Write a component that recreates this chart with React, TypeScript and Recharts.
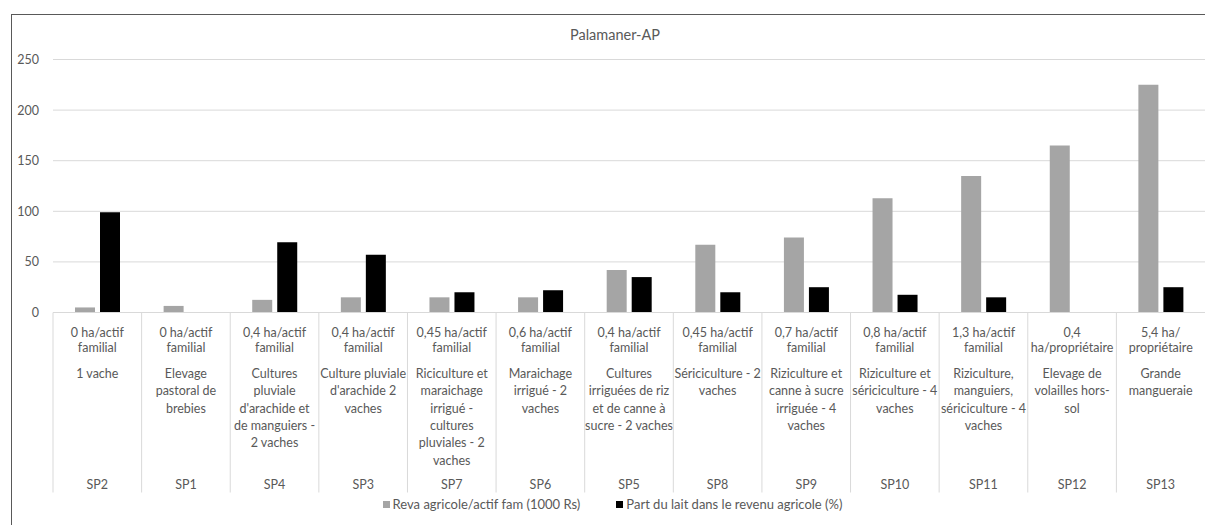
import React from 'react';
import { BarChart, Bar, XAxis, YAxis, CartesianGrid, Legend } from 'recharts';

const categories = ['SP2', 'SP1', 'SP4', 'SP3', 'SP7', 'SP6', 'SP5', 'SP8', 'SP9', 'SP10', 'SP11', 'SP12', 'SP13'];

const surfaceLabels = [
  '0 ha/actif\nfamilial',
  '0 ha/actif\nfamilial',
  '0,4 ha/actif\nfamilial',
  '0,4 ha/actif\nfamilial',
  '0,45 ha/actif\nfamilial',
  '0,6 ha/actif\nfamilial',
  '0,4 ha/actif\nfamilial',
  '0,45 ha/actif\nfamilial',
  '0,7 ha/actif\nfamilial',
  '0,8 ha/actif\nfamilial',
  '1,3 ha/actif\nfamilial',
  '0,4\nha/propriétaire',
  '5,4 ha/\npropriétaire',
];

const systemLabels = [
  '1 vache',
  'Elevage\npastoral de\nbrebies',
  "Cultures\npluviale\nd'arachide et\nde manguiers -\n2 vaches",
  "Culture pluviale\nd'arachide 2\nvaches",
  'Riciculture et\nmaraichage\nirrigué -\ncultures\npluviales - 2\nvaches',
  'Maraichage\nirrigué - 2\nvaches',
  'Cultures\nirriguées de riz\net de canne à\nsucre - 2 vaches',
  'Sériciculture - 2\nvaches',
  'Riziculture et\ncanne à sucre\nirriguée - 4\nvaches',
  'Riziculture et\nsériciculture - 4\nvaches',
  'Riziculture,\nmanguiers,\nsériciculture - 4\nvaches',
  'Elevage de\nvolailles hors-\nsol',
  'Grande\nmangueraie',
];

const revenuAgricole = [5, 6.5, 12.5, 15, 15, 15, 42, 67, 74, 113, 135, 165, 225];
const partLait = [99, null, 69.5, 57, 20, 22, 35, 20, 25, 17.5, 15, null, 25];

const yTicks = [0, 50, 100, 150, 200, 250];

const SERIES_1 = 'Reva agricole/actif fam (1000 Rs)';
const SERIES_2 = 'Part du lait dans le revenu agricole (%)';
const TITLE = 'Palamaner-AP';

const data = categories.map((c, i) => ({
  name: c,
  surface: surfaceLabels[i],
  system: systemLabels[i],
  reva: revenuAgricole[i],
  lait: partLait[i],
}));

const FONT = 'Lato, "Liberation Sans", sans-serif';
const TEXT = '#595959';
const PLOT_LEFT = 53;
const PLOT_RIGHT = 1205;
const BAND = (PLOT_RIGHT - PLOT_LEFT) / categories.length;

const XTick = (props: any) => {
  const { x, y, payload } = props;
  const idx = payload.index;
  const d = data[idx];
  const surf = d.surface.split('\n');
  const sys = d.system.split('\n');
  const left = x - BAND / 2;
  return (
    <g>
      <line x1={left} y1={y} x2={left} y2={y + 180} stroke="#d9d9d9" strokeWidth={1} />
      <text textAnchor="middle" fontSize={12.5} fill={TEXT} fontFamily={FONT}>
        {surf.map((s: string, i: number) => (
          <tspan key={'s' + i} x={x} y={y + 19.5 + i * 15} dominantBaseline="central">{s}</tspan>
        ))}
        {sys.map((s: string, i: number) => (
          <tspan key={'d' + i} x={x} y={y + 61 + i * 17.3} dominantBaseline="central">{s}</tspan>
        ))}
        <tspan x={x} y={y + 171.5} dominantBaseline="central">{d.name}</tspan>
      </text>
    </g>
  );
};

const YTick = (props: any) => {
  const { y, payload } = props;
  return (
    <text x={39} y={y} textAnchor="end" dominantBaseline="central" fontSize={12.5} fill={TEXT} fontFamily={FONT}>
      {payload.value}
    </text>
  );
};

const LegendContent = () => (
  <div style={{ display: 'flex', justifyContent: 'center', alignItems: 'center', fontFamily: FONT, fontSize: 13, color: TEXT }}>
    <span style={{ display: 'inline-block', width: 7, height: 7, background: '#a5a5a5', marginRight: 3 }} />
    <span style={{ marginRight: 36 }}>{SERIES_1}</span>
    <span style={{ display: 'inline-block', width: 7, height: 7, background: '#000000', marginRight: 3 }} />
    <span>{SERIES_2}</span>
  </div>
);

export default function App() {
  return (
    <div style={{ position: 'absolute', left: 0, top: 0, width: 1205, height: 525, overflow: 'hidden', background: '#fff' }}>
      <div style={{ position: 'absolute', left: 11, top: 14, width: 1230, height: 540, borderLeft: '1.5px solid #595959', borderTop: '1.5px solid #595959' }} />
      <div style={{ position: 'absolute', left: 415, width: 400, top: 26, textAlign: 'center', fontFamily: FONT, fontSize: 14.5, color: TEXT }}>{TITLE}</div>
      <div style={{ position: 'absolute', left: 0, top: 0 }}>
        <BarChart
          width={1205}
          height={525}
          data={data}
          margin={{ top: 59.5, right: 0, left: 13, bottom: 32.5 }}
          barSize={20}
          barGap={5}
        >
          <CartesianGrid vertical={false} stroke="#d9d9d9" />
          <XAxis
            dataKey="name"
            interval={0}
            height={180}
            tickLine={false}
            tickSize={0}
            tickMargin={0}
            axisLine={{ stroke: '#d9d9d9' }}
            tick={<XTick />}
          />
          <YAxis
            width={40}
            domain={[0, 250]}
            ticks={yTicks}
            axisLine={false}
            tickLine={false}
            tick={<YTick />}
          />
          <Legend
            layout="horizontal"
            verticalAlign="middle"
            align="center"
            wrapperStyle={{ position: 'absolute', top: 496, left: 0, width: 1225 }}
            content={<LegendContent />}
          />
          <Bar dataKey="reva" name={SERIES_1} fill="#a5a5a5" isAnimationActive={false} />
          <Bar dataKey="lait" name={SERIES_2} fill="#000000" isAnimationActive={false} />
        </BarChart>
      </div>
    </div>
  );
}
